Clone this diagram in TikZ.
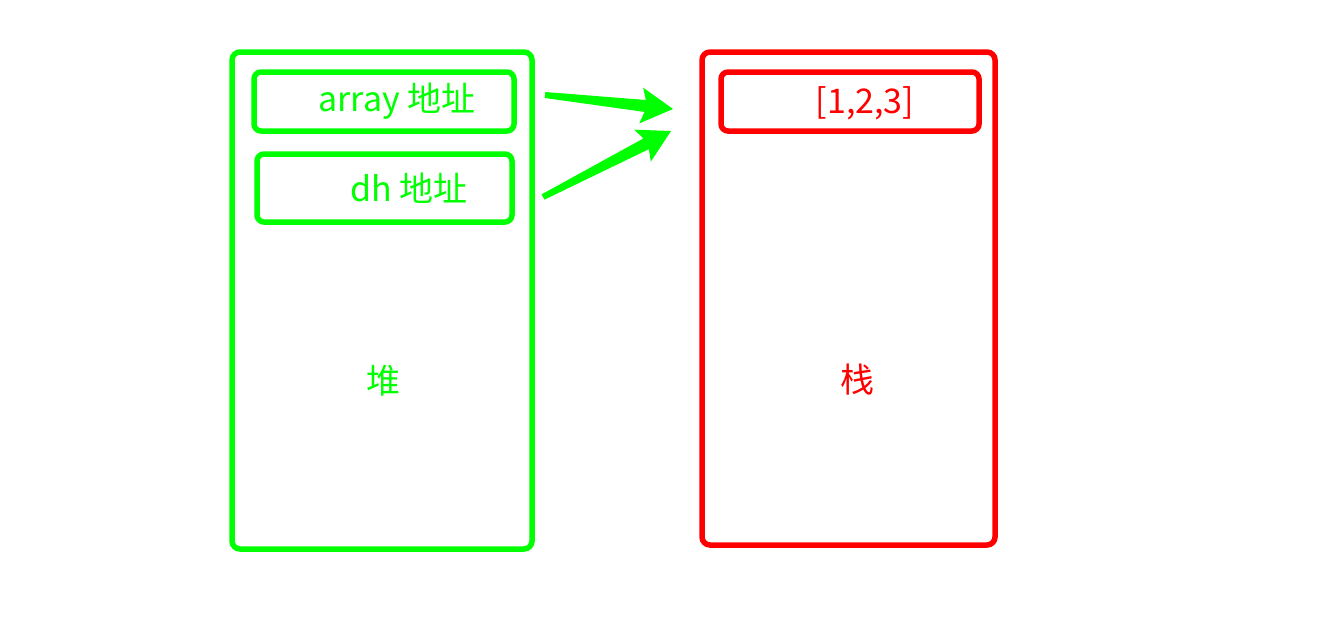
\documentclass[tikz,border=0pt]{standalone}
\usepackage{fontspec}
\setmainfont{Noto Sans CJK SC}
\usetikzlibrary{calc}

\definecolor{heapgreen}{HTML}{00FF00}
\definecolor{stackred}{HTML}{FF0000}

% tapered arrow from a tail coordinate to a tip coordinate
\newcommand{\taperarrow}[2]{%
  \fill[heapgreen]
    ($(#1)!3pt!90:(#2)$) --
    ($($(#2)!28pt!(#1)$)!6pt!90:(#2)$) --
    ($($(#2)!32pt!(#1)$)!18pt!90:(#2)$) --
    (#2) --
    ($($(#2)!32pt!(#1)$)!18pt!-90:(#2)$) --
    ($($(#2)!28pt!(#1)$)!6pt!-90:(#2)$) --
    ($(#1)!3pt!-90:(#2)$) -- cycle;}

\begin{document}
\begin{tikzpicture}[
  x=1pt, y=-1pt,
  box/.style={draw, line width=5.5pt, rounded corners=8pt, inner sep=0pt},
  cell/.style={draw, line width=5.5pt, rounded corners=7pt, inner sep=0pt},
  word/.style={font=\fontsize{34}{40}\selectfont, inner sep=0pt}
]
\useasboundingbox (0,0) rectangle (1318,630);

% Boxes
\node[box, draw=heapgreen, minimum width=300pt, minimum height=497pt] (heap) at (382,300.5) {};
\node[box, draw=stackred, minimum width=293pt, minimum height=493pt] (stack) at (848.5,298.5) {};

\node[cell, draw=heapgreen, minimum width=260pt, minimum height=59pt] (arraycell) at (384,101.5) {};
\node[cell, draw=heapgreen, minimum width=255pt, minimum height=68pt] (dhcell) at (384.5,188) {};
\node[cell, draw=stackred, minimum width=258pt, minimum height=59pt] (valcell) at (850,101.5) {};

% Texts
\node[word, text=heapgreen] (arrayaddr) at (397,101) {array 地址};
\node[word, text=heapgreen] (dhaddr) at (409,188) {dh 地址};
\node[word, text=stackred] (arrval) at (865,103) {[1,2,3]};
\node[word, text=heapgreen] (heaplabel) at (383,381) {堆};
\node[word, text=stackred] (stacklabel) at (857,380) {栈};

% Arrows
\coordinate (arraytail) at (545,95);
\coordinate (arraytip) at (673,109);
\coordinate (dhtail) at (543,197);
\coordinate (dhtip) at (671,131);
\taperarrow{arraytail}{arraytip}
\taperarrow{dhtail}{dhtip}

\end{tikzpicture}
\end{document}
